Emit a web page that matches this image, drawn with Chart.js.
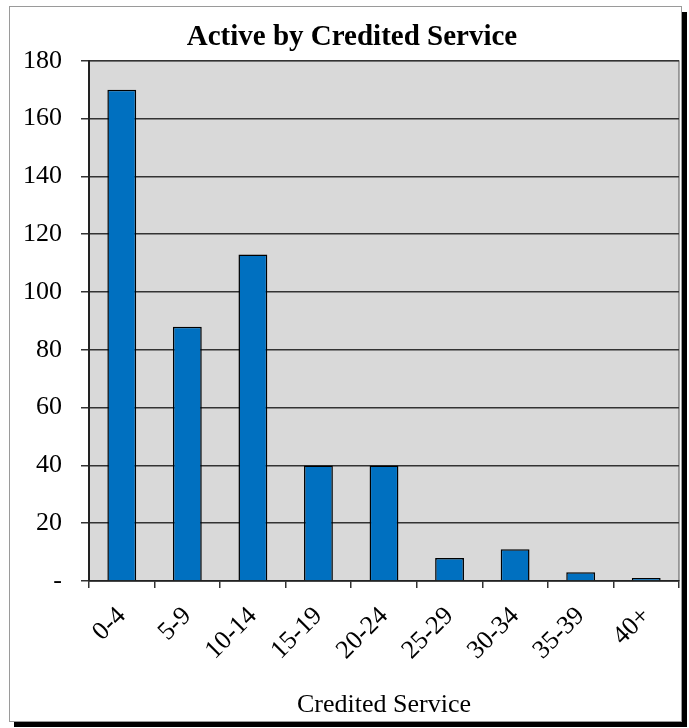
<!DOCTYPE html>
<html>
<head>
<meta charset="utf-8">
<script src="https://cdn.jsdelivr.net/npm/chart.js@4/dist/chart.umd.min.js"></script>
<style>
  html, body { margin: 0; padding: 0; background: #fff; }
  #wrap { position: relative; width: 689px; height: 728px; }
</style>
</head>
<body>
<div id="wrap"><canvas id="chart" width="689" height="728"></canvas></div>
<script>
// ── DATA ────────────────────────────────────────────────
const CATEGORIES = ['0-4', '5-9', '10-14', '15-19', '20-24', '25-29', '30-34', '35-39', '40+'];
const ACTIVE     = [170, 88, 113, 40, 40, 8, 11, 3, 1];
const Y_TICKS    = [0, 20, 40, 60, 80, 100, 120, 140, 160, 180];

const SERIF = "'Liberation Serif', 'Times New Roman', serif";

// ── FRAME + PLOT BACKGROUND ─────────────────────────────
const framePlugin = {
  id: 'frame',
  beforeDraw(chart) {
    const c = chart.ctx;
    c.save();
    c.fillStyle = '#fff';
    c.fillRect(0, 0, chart.width, chart.height);
    // drop shadow
    c.fillStyle = '#000';
    c.fillRect(682, 12, 5, 715);
    c.fillRect(14, 722, 673, 5);
    // outer box
    c.strokeStyle = '#9a9a9a';
    c.lineWidth = 1;
    c.strokeRect(9.5, 6.5, 672, 715);
    // plot area
    const a = chart.chartArea;
    c.fillStyle = '#d9d9d9';
    c.fillRect(a.left, a.top, a.right - a.left, a.bottom - a.top);
    c.strokeStyle = '#555';
    c.strokeRect(a.left, a.top, a.right - a.left, a.bottom - a.top);
    c.restore();
  }
};

new Chart(document.getElementById('chart'), {
  type: 'bar',
  data: {
    labels: CATEGORIES,
    datasets: [{
      label: 'Active',
      data: ACTIVE,
      backgroundColor: '#0070c0',
      borderColor: '#000',
      borderWidth: 1.5,
      barPercentage: 1,
      categoryPercentage: 0.44,
    }]
  },
  options: {
    responsive: false,
    animation: false,
    layout: { padding: { left: 25, right: 10, top: 0, bottom: 0 } },
    plugins: {
      legend: { display: false },
      tooltip: { enabled: false },
      title: {
        display: true,
        text: 'Active by Credited Service',
        color: '#000',
        font: { family: SERIF, size: 29, weight: 'bold' },
        padding: { top: 20, bottom: 6 },
      },
    },
    scales: {
      x: {
        grid: { offset: true, drawOnChartArea: false, color: '#333', tickLength: 7, lineWidth: 1.5 },
        border: { color: '#222', width: 1.5 },
        ticks: {
          color: '#000',
          font: { family: SERIF, size: 26 },
          minRotation: 45, maxRotation: 45,
          padding: 13,
        },
        title: {
          display: true,
          text: 'Credited Service',
          color: '#000',
          font: { family: SERIF, size: 26 },
          padding: { top: 0, bottom: 7 },
        },
        afterFit(scale) { scale.height = 147; },
      },
      y: {
        min: 0, max: 180,
        afterBuildTicks(scale) { scale.ticks = Y_TICKS.map(v => ({ value: v })); },
        grid: { color: '#333', lineWidth: 1.5, tickLength: 8 },
        border: { color: '#222', width: 2 },
        ticks: {
          color: '#000',
          font: { family: SERIF, size: 26 },
          padding: 19,
          callback: v => (v === 0 ? '-' : v),
        },
        afterFit(scale) { scale.width = 64; },
      },
    },
  },
  plugins: [framePlugin],
});
</script>
</body>
</html>
